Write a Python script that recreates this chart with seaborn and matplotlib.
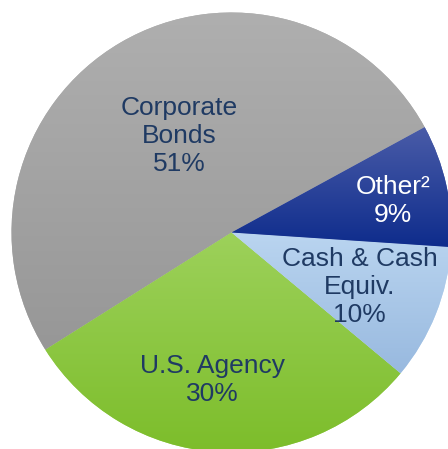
import numpy as np
import matplotlib
matplotlib.use("Agg")
import matplotlib.pyplot as plt
import seaborn as sns
from matplotlib.colors import LinearSegmentedColormap

# Portfolio composition
names = ["Corporate\nBonds", "U.S. Agency", "Cash & Cash\nEquiv.", "Other\u00b2"]
shares = [51, 30, 10, 9]

# gradient fill per slice (top colour, bottom colour)
tops = ["#AFAFAF", "#9DD15B", "#BAD5F0", "#4A5CA8"]
bottoms = ["#979797", "#7CBD2A", "#98B9DF", "#0E2C8C"]
text_colors = ["#1F3A63", "#1F3A63", "#1F3A63", "#FFFFFF"]

# label placement relative to the slice middle
label_r = [0.50, 0.676, 0.634, 0.748]
label_turn = [-1.9, -3.7, -1.3, -1.5]

sns.set_style("white")
plt.rcParams["font.family"] = ["Liberation Sans", "DejaVu Sans"]

fig = plt.figure(figsize=(4.48, 4.49), dpi=100)
ax = fig.add_axes([0, 0, 1, 1])

wedges, _ = ax.pie(shares, startangle=28.6, counterclock=True, radius=1,
                   colors=tops, wedgeprops=dict(linewidth=0))

# vertical gradient clipped to each wedge
grad = np.linspace(0, 1, 256).reshape(-1, 1)
for w, c0, c1 in zip(wedges, tops, bottoms):
    pts = w.get_patch_transform().transform(w.get_path().vertices)
    x0, y0 = pts.min(axis=0)
    x1, y1 = pts.max(axis=0)
    cmap = LinearSegmentedColormap.from_list("g", [c0, c1])
    im = ax.imshow(grad, cmap=cmap, extent=(x0, x1, y0, y1), origin="upper",
                   aspect="auto", zorder=2, interpolation="bilinear")
    im.set_clip_path(w)

for w, name, s, r, dt, tc in zip(wedges, names, shares, label_r, label_turn, text_colors):
    mid = np.deg2rad((w.theta1 + w.theta2) / 2 + dt)
    ax.text(r * np.cos(mid), r * np.sin(mid), f"{name}\n{s}%", ha="center", va="center",
            multialignment="center", fontsize=19, color=tc, zorder=3)

ax.set_xlim(-231.5 / 220, (448 - 231.5) / 220)
ax.set_ylim(-(449 - 232.5) / 220, 232.5 / 220)
ax.set_aspect("auto")
ax.axis("off")

fig.savefig("out.png", dpi=100)
